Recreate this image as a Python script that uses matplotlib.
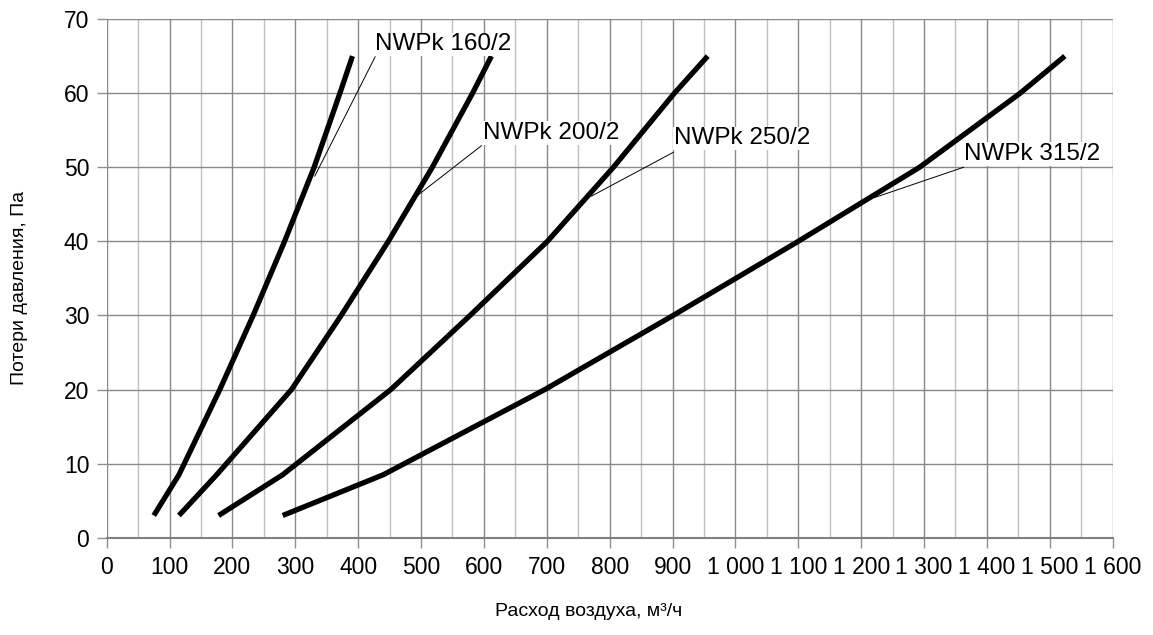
import matplotlib
matplotlib.use("Agg")
import matplotlib.pyplot as plt
from matplotlib.ticker import MultipleLocator, FuncFormatter

plt.rcParams['font.family'] = ['Liberation Sans', 'DejaVu Sans']

# Data (flow m³/h, pressure loss Pa)
x_160 = [75, 115, 180, 233, 283, 330, 371, 391]
y_160 = [3, 8.5, 20, 30, 40, 50, 60, 65]

x_200 = [115, 175, 294, 373, 448, 518, 582, 612]
y_200 = [3, 8.5, 20, 30, 40, 50, 60, 65]

x_250 = [178, 280, 452, 578, 701, 806, 903, 956]
y_250 = [3, 8.5, 20, 30, 40, 50, 60, 65]

x_315 = [280, 440, 697, 901, 1100, 1293, 1453, 1524]
y_315 = [3, 8.5, 20, 30, 40, 50, 60, 65]

series_names = ["NWPk 160/2", "NWPk 200/2", "NWPk 250/2", "NWPk 315/2"]
# label text anchor (x, y), leader start near label and end on curve (x, y)
label_pos = [(427, 66.6), (598, 54.6), (902, 53.9), (1364, 51.8)]
leader_start = [(427, 64.9), (596, 52.9), (901, 52.0), (1363, 50.0)]
leader_end = [(331, 48.8), (496, 46.3), (771, 46.1), (1221, 45.9)]

fig = plt.figure(figsize=(11.53, 6.35), dpi=100)
ax = fig.add_axes([0.0925, 0.1532, 0.8725, 0.8168])

ax.set_xlim(0, 1600)
ax.set_ylim(0, 70)

ax.xaxis.set_major_locator(MultipleLocator(100))
ax.xaxis.set_minor_locator(MultipleLocator(50))
ax.yaxis.set_major_locator(MultipleLocator(10))

def fmt(v, pos):
    v = int(round(v))
    if v >= 1000:
        return f"{v // 1000} {v % 1000:03d}"
    return str(v)

ax.xaxis.set_major_formatter(FuncFormatter(fmt))

ax.grid(which='major', axis='both', color='#888888', linewidth=1.0)
ax.grid(which='minor', axis='x', color='#c0c0c0', linewidth=1.0)
ax.set_axisbelow(True)

for s in ['top', 'right', 'left']:
    ax.spines[s].set_visible(False)
ax.spines['bottom'].set_color('#808080')
ax.spines['bottom'].set_linewidth(1.5)

ax.tick_params(axis='both', which='major', labelsize=16.5, length=7.5,
               width=1.0, color='#909090', pad=5)
ax.tick_params(axis='x', which='minor', length=0)
ax.tick_params(axis='x', which='major', pad=6)

for xs, ys in [(x_160, y_160), (x_200, y_200), (x_250, y_250), (x_315, y_315)]:
    ax.plot(xs, ys, color='black', linewidth=3.8, solid_capstyle='butt',
            solid_joinstyle='round', zorder=3)

for name, (tx, ty), (sx, sy), (ex, ey) in zip(series_names, label_pos, leader_start, leader_end):
    ax.plot([sx, ex], [sy, ey], color='black', linewidth=0.7, zorder=4)
    ax.text(tx, ty, name, fontsize=17.5, ha='left', va='center', zorder=5,
            bbox=dict(facecolor='white', edgecolor='none', pad=0.5))

fig.text(20 / 1153, 1 - 288 / 635, "Потери давления, Па", rotation=90,
         ha='center', va='center', fontsize=14)
fig.text(589 / 1153, 1 - 611 / 635, "Расход воздуха, м³/ч",
         ha='center', va='center', fontsize=14)

fig.savefig("out.png", dpi=100, facecolor='white')
